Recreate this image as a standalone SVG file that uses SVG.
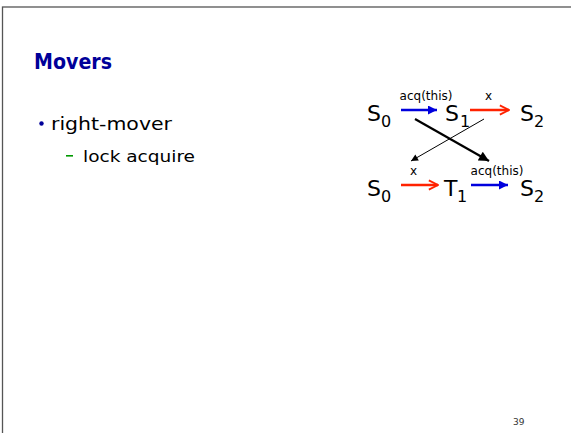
<svg xmlns="http://www.w3.org/2000/svg" width="571" height="433" viewBox="0 0 571 433">
  <style>
    text { font-family: "DejaVu Sans", "Liberation Sans", sans-serif; }
    .title { font-size: 21px; font-weight: bold; fill: #000099; }
    .item { font-size: 18px; fill: #000; }
    .subitem { font-size: 16px; fill: #000; }
    .st { font-size: 22px; fill: #000; }
    .sub { font-size: 16px; fill: #000; }
    .lbl { font-size: 12px; fill: #000; }
    .blue { stroke: #0000dd; stroke-width: 2.5; fill: none; }
    .red { stroke: #ff2200; stroke-width: 2.5; fill: none; }
    .thick { stroke: #000; stroke-width: 2.2; fill: none; }
    .thin { stroke: #000; stroke-width: 1; fill: none; }
  </style>
  <defs>
    <marker id="head-blue" viewBox="0 0 10 10" refX="10" refY="5" markerWidth="9" markerHeight="9" markerUnits="userSpaceOnUse" orient="auto">
      <path d="M0,0 L10,5 L0,10 Z" fill="#0000dd"/>
    </marker>
    <marker id="head-red" viewBox="0 0 12 12" refX="11" refY="6" markerWidth="11" markerHeight="12" markerUnits="userSpaceOnUse" orient="auto">
      <path d="M1,1 L11,6 L1,11" fill="none" stroke="#ff2200" stroke-width="2"/>
    </marker>
    <marker id="head-thick" viewBox="0 0 10 10" refX="10" refY="5" markerWidth="11" markerHeight="10" markerUnits="userSpaceOnUse" orient="auto">
      <path d="M0,0 L10,5 L0,10 Z" fill="#000"/>
    </marker>
    <marker id="head-thin" viewBox="0 0 10 10" refX="10" refY="5" markerWidth="8" markerHeight="7" markerUnits="userSpaceOnUse" orient="auto">
      <path d="M0,0 L10,5 L0,10 Z" fill="#000"/>
    </marker>
  </defs>

  <rect width="571" height="433" fill="#fff"/>
  <!-- slide frame -->
  <rect x="2.5" y="7" width="600" height="500" fill="none" stroke="#555" stroke-width="1.3"/>

  <!-- heading and bullets -->
  <text class="title" x="34" y="69" textLength="78" lengthAdjust="spacingAndGlyphs">Movers</text>
  <circle cx="41.5" cy="123.5" r="2.2" fill="#000099"/>
  <text class="item" x="51" y="130" textLength="121" lengthAdjust="spacingAndGlyphs">right-mover</text>
  <rect x="66" y="155" width="7" height="1.6" fill="#009900"/>
  <text class="subitem" x="83" y="162" textLength="112" lengthAdjust="spacingAndGlyphs">lock acquire</text>

  <!-- states, top row -->
  <g id="s0-top">
    <text class="st" x="367" y="121">S</text><text class="sub" x="381" y="126.5">0</text>
  </g>
  <g id="s1-top">
    <text class="st" x="445" y="121">S</text><text class="sub" x="460" y="126.5">1</text>
  </g>
  <g id="s2-top">
    <text class="st" x="520" y="121">S</text><text class="sub" x="534" y="126.5">2</text>
  </g>

  <!-- states, bottom row -->
  <g id="s0-bottom">
    <text class="st" x="367" y="196">S</text><text class="sub" x="381" y="201.5">0</text>
  </g>
  <g id="t1-bottom">
    <text class="st" x="444" y="196">T</text><text class="sub" x="457" y="201.5">1</text>
  </g>
  <g id="s2-bottom">
    <text class="st" x="520" y="196">S</text><text class="sub" x="534" y="201.5">2</text>
  </g>

  <!-- transitions -->
  <g id="connectors">
    <line class="blue" x1="401" y1="110" x2="437" y2="110" marker-end="url(#head-blue)"/>
    <text class="lbl" x="426" y="100" text-anchor="middle">acq(this)</text>
    <line class="red" x1="470" y1="110" x2="509" y2="110" marker-end="url(#head-red)"/>
    <text class="lbl" x="488.5" y="100" text-anchor="middle">x</text>

    <line class="red" x1="401" y1="185" x2="438" y2="185" marker-end="url(#head-red)"/>
    <text class="lbl" x="413.5" y="175" text-anchor="middle">x</text>
    <line class="blue" x1="471" y1="185" x2="508" y2="185" marker-end="url(#head-blue)"/>
    <text class="lbl" x="497" y="175" text-anchor="middle">acq(this)</text>

    <line class="thick" x1="415" y1="119" x2="489" y2="161" marker-end="url(#head-thick)"/>
    <line class="thin" x1="484" y1="119" x2="411" y2="161" marker-end="url(#head-thin)"/>
  </g>

  <!-- page number -->
  <text x="513" y="425" font-size="9" fill="#333">39</text>
</svg>
